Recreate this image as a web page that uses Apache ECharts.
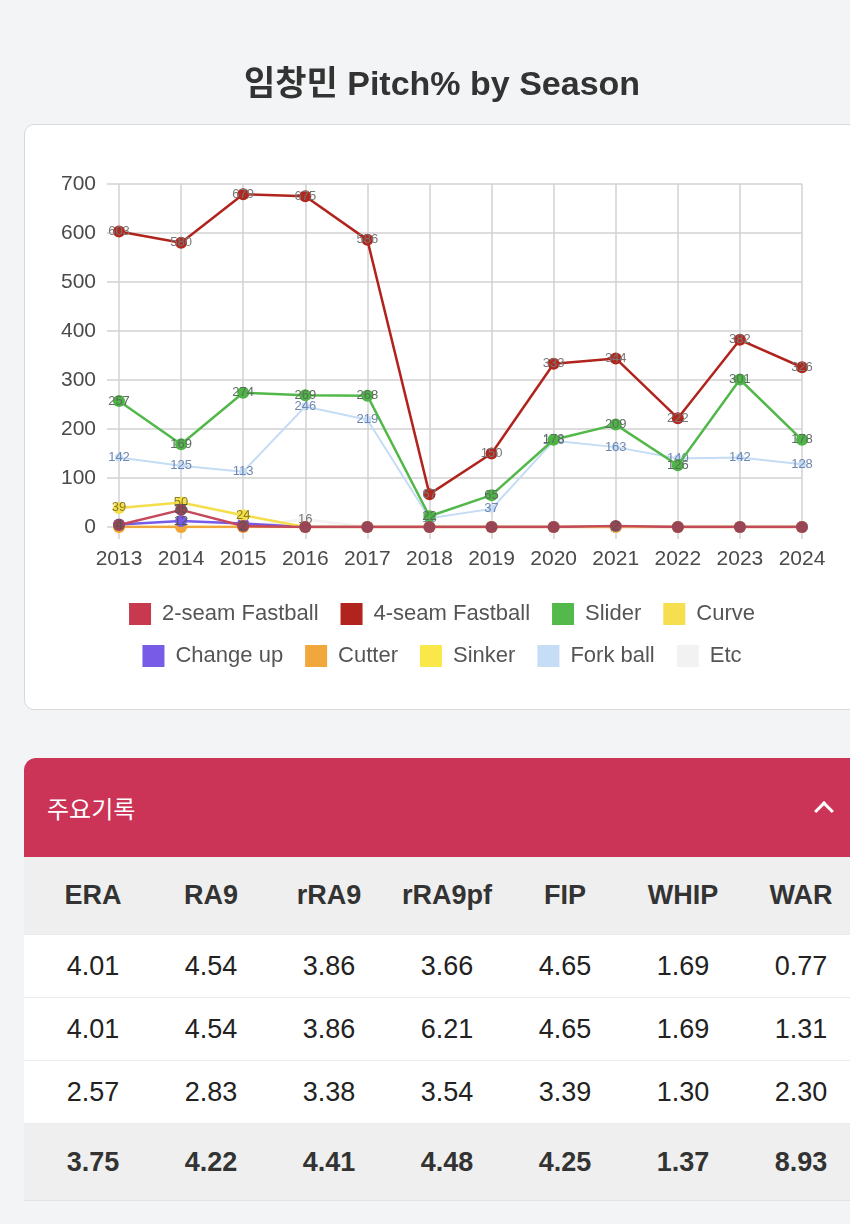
<!DOCTYPE html>
<html><head><meta charset="utf-8">
<script src="https://cdn.jsdelivr.net/npm/echarts@6/dist/echarts.min.js"></script>
<style>
html,body{margin:0;padding:0;background:#f3f4f6;width:850px;height:1224px;overflow:hidden;font-family:'Liberation Sans',Arial,'Noto Sans CJK KR',sans-serif;}
#card{position:absolute;left:24px;top:124px;width:880px;height:586px;background:#fff;border:1.5px solid #d8d9db;border-radius:10px;box-sizing:border-box;}
#chart{position:absolute;left:0;top:0;width:884px;height:720px;}
#stats{position:absolute;left:24px;top:758px;width:880px;}
#bar{position:relative;height:99px;background:#cb3456;border-top-left-radius:12px;color:#fff;font-family:'Noto Sans CJK KR',sans-serif;font-size:24px;line-height:99px;padding-left:23px;box-sizing:border-box;}
#chev{position:absolute;left:793px;top:46px;width:11px;height:11px;border-top:3.5px solid #fff;border-left:3.5px solid #fff;transform:rotate(45deg);}
.row{display:flex;background:#fff;border-bottom:1px solid #ebebeb;padding-left:10px;}
.row div{width:118px;text-align:center;color:#222;font-size:27px;}
.hdr{background:#efefef;height:77px;line-height:77px;}
.hdr div{font-weight:bold;color:#333;}
.body{height:62px;line-height:62px;}
.tot{background:#efefef;height:76px;line-height:76px;border-bottom:1px solid #e2e2e2;}
.tot div{font-weight:bold;color:#333;}
</style></head>
<body>
<div id="card"></div>
<div id="chart"></div>
<div id="stats"><div id="bar">주요기록<div id="chev"></div></div><div id="tbl"></div></div>
<script>
const years = ['2013','2014','2015','2016','2017','2018','2019','2020','2021','2022','2023','2024'];
const seriesNames = ['2-seam Fastball','4-seam Fastball','Slider','Curve','Change up','Cutter','Sinker','Fork ball','Etc'];
const twoSeam  = [4, 35, 2, 0, 0, 0, 0, 0, 2, 0, 0, 0];
const fourSeam = [603, 580, 679, 675, 586, 67, 150, 333, 344, 222, 382, 326];
const slider   = [257, 169, 274, 269, 268, 22, 65, 178, 209, 126, 301, 178];
const curve    = [39, 50, 24, 0, 0, 0, 0, 0, 0, 0, 0, 0];
const changeUp = [5, 12, 7, 0, 0, 0, 0, 0, 0, 0, 0, 0];
const cutter   = [0, 0, 0, 0, 0, 0, 0, 0, 0, 0, 0, 0];
const sinker   = [0, 0, 0, 0, 0, 0, 0, 0, 0, 0, 0, 0];
const forkBall = [142, 125, 113, 246, 219, 18, 37, 176, 163, 140, 142, 128];
const etc      = [0, 0, 0, 16, 0, 0, 0, 0, 0, 0, 0, 0];
const yTicks = [0, 100, 200, 300, 400, 500, 600, 700];

const tableHeader = ['ERA','RA9','rRA9','rRA9pf','FIP','WHIP','WAR'];
const row1 = ['4.01','4.54','3.86','3.66','4.65','1.69','0.77'];
const row2 = ['4.01','4.54','3.86','6.21','4.65','1.69','1.31'];
const row3 = ['2.57','2.83','3.38','3.54','3.39','1.30','2.30'];
const totalRow = ['3.75','4.22','4.41','4.48','4.25','1.37','8.93'];

const seriesData = [twoSeam, fourSeam, slider, curve, changeUp, cutter, sinker, forkBall, etc];
const lineColors = ['#c44a5c','#b1241d','#52b84a','#f5de4c','#775be6','#f0a63a','#f8e84a','#c5dcf5','#f2f2f2'];
const dotColors  = ['#984656','#b1281f','#4db546','#f5de4c','#775be6','#f0a63a','#f8e84a','#c5dcf5','#f2f2f2'];
const legendColors = ['#c8394f','#b1231d','#53b94b','#f6df4e','#785ce8','#f0a73b','#fae84a','#c6ddf6','#f2f2f2'];
const labelColors = ['#555','#777','#5d6d5d','#8a7b1e','#555','#c98a20','#8a7b1e','#6f86b0','#777'];

const series = seriesNames.map((name, i) => ({
  name: name,
  type: 'line',
  data: seriesData[i],
  z: 20 - i,
  symbol: 'circle',
  symbolSize: i === 7 ? 8 : 12,
  lineStyle: {width: i === 7 ? 2 : 2.5, color: lineColors[i]},
  itemStyle: {color: dotColors[i]},
  label: {
    show: true, position: 'inside',
    fontSize: 13, fontFamily: 'Liberation Sans',
    color: labelColors[i],
    formatter: p => (p.value > 0 ? String(p.value) : '')
  },
  emphasis: {disabled: true},
  animation: false
}));

const legendItems = seriesNames.map((name, i) => ({name: name, itemStyle: {color: legendColors[i]}}));

const chart = echarts.init(document.getElementById('chart'));
const legendBase = {
  left: 'center', icon: 'rect', itemWidth: 22, itemHeight: 22, itemGap: 22,
  textStyle: {fontSize: 22, color: '#555', fontFamily: 'Liberation Sans', padding: [0, 0, 0, 6]}
};
chart.setOption({
  title: {
    text: '임창민 Pitch% by Season', left: 'center', top: 64,
    textStyle: {fontSize: 34, fontWeight: 'bold', color: '#333', fontFamily: "'Liberation Sans','Noto Sans CJK KR'"}
  },
  legend: [
    Object.assign({}, legendBase, {data: legendItems.slice(0, 4), top: 598}),
    Object.assign({}, legendBase, {data: legendItems.slice(4), top: 640})
  ],
  grid: {left: 119, right: 82, top: 184, bottom: 193},
  xAxis: {
    type: 'category', data: years, boundaryGap: false,
    axisLine: {show: true, lineStyle: {color: '#d2d2d2', width: 1.5}},
    axisTick: {show: true, alignWithLabel: true, length: 12, lineStyle: {color: '#d2d2d2', width: 1.5}},
    splitLine: {show: true, lineStyle: {color: '#d2d2d2', width: 1.5}},
    axisLabel: {fontSize: 21, color: '#4a4a4a', margin: 22, fontFamily: 'Liberation Sans'}
  },
  yAxis: {
    type: 'value', min: yTicks[0], max: yTicks[yTicks.length - 1], interval: 100,
    axisLine: {show: false},
    axisTick: {show: true, length: 12, lineStyle: {color: '#d2d2d2', width: 1.5}},
    splitLine: {show: true, lineStyle: {color: '#d2d2d2', width: 1.5}},
    axisLabel: {fontSize: 21, color: '#4a4a4a', margin: 23, fontFamily: 'Liberation Sans'}
  },
  series: series
});

function makeRow(cls, cells) {
  return '<div class="row ' + cls + '">' + cells.map(c => '<div>' + c + '</div>').join('') + '</div>';
}
document.getElementById('tbl').innerHTML =
  makeRow('hdr', tableHeader) + makeRow('body', row1) + makeRow('body', row2) + makeRow('body', row3) + makeRow('tot', totalRow);
</script>
</body></html>
